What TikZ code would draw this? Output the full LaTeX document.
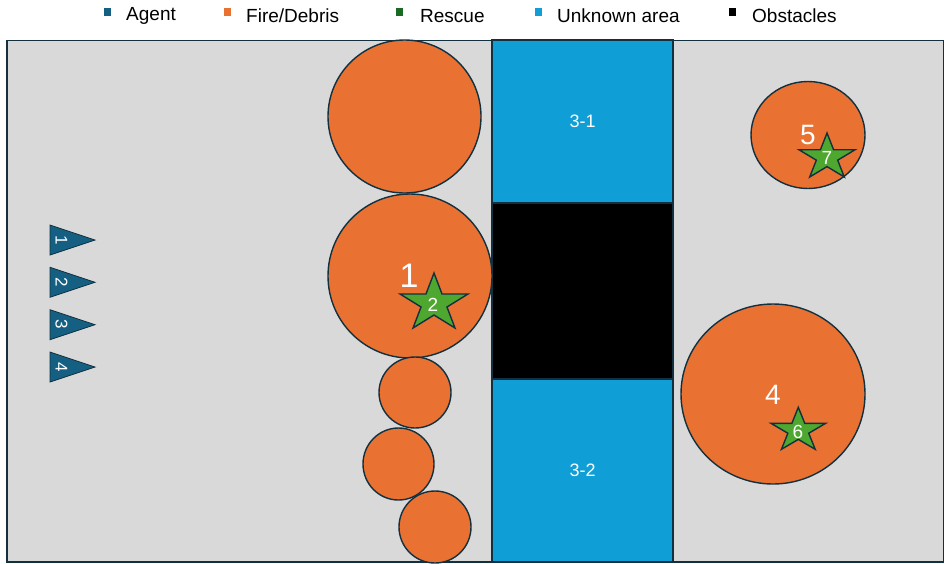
\documentclass[tikz,border=0pt]{standalone}
\usepackage{fontspec}
\setmainfont{Liberation Sans}
\usetikzlibrary{shapes.geometric}
\definecolor{bggray}{HTML}{D9D9D9}
\definecolor{edge}{HTML}{13303F}
\definecolor{fire}{HTML}{E97132}
\definecolor{unknown}{HTML}{0F9ED5}
\definecolor{agentc}{HTML}{156082}
\definecolor{rescue}{HTML}{4EA72E}
\definecolor{rescuedk}{HTML}{196B24}
\tikzset{
  fs/.style={font=\fontsize{#1}{#1}\selectfont},
  frame/.style={draw=edge, fill=bggray, line width=1.6pt},
  firec/.style={ellipse, draw=edge, fill=fire, line width=1.4pt, inner sep=0pt},
  zone/.style={rectangle, draw=edge, line width=1.2pt, inner sep=0pt, text=white, fs=18},
  starsty/.style={draw=edge, fill=rescue, line width=1.4pt, line join=miter},
  agentsty/.style={draw=edge, fill=agentc, line width=0.8pt},
  bignum/.style={text=white, inner sep=0pt},
  starnum/.style={text=white, inner sep=0pt, fs=19},
  agentnum/.style={text=white, inner sep=0pt, fs=17, rotate=-90},
  legsq/.style={rectangle, minimum width=7pt, minimum height=8pt, inner sep=0pt},
  legtxt/.style={anchor=west, inner sep=0pt, fs=19, text=black},
}
\newcommand{\mystar}[3]{%
  \begin{scope}[shift={(#1)}]
  \draw[starsty] (-90:#2 and #3) -- (-54:{0.382*#2} and {0.382*#3})
    -- (-18:#2 and #3) -- (18:{0.382*#2} and {0.382*#3})
    -- (54:#2 and #3) -- (90:{0.382*#2} and {0.382*#3})
    -- (126:#2 and #3) -- (162:{0.382*#2} and {0.382*#3})
    -- (198:#2 and #3) -- (234:{0.382*#2} and {0.382*#3}) -- cycle;
  \end{scope}}
\begin{document}
\begin{tikzpicture}[x=1pt, y=-1pt]
\useasboundingbox (0,0) rectangle (944,563);
% legend
\node[legsq, fill=agentc] (lq1) at (107,12) {};
\node[legtxt] (lt1) at (126,16) {Agent};
\node[legsq, fill=fire] (lq2) at (227,12) {};
\node[legtxt] (lt2) at (246,16) {Fire/Debris};
\node[legsq, fill=rescuedk] (lq3) at (399,12) {};
\node[legtxt] (lt3) at (420,16) {Rescue};
\node[legsq, fill=unknown] (lq4) at (538,12) {};
\node[legtxt] (lt4) at (557,16) {Unknown area};
\node[legsq, fill=black] (lq5) at (732,12) {};
\node[legtxt] (lt5) at (752,16) {Obstacles};
% frame
\draw[frame] (7,40.5) rectangle (944,562);
% zones
\node[zone, fill=unknown, minimum width=181pt, minimum height=163pt] (z31) at (582.5,121.5) {3-1};
\node[zone, fill=black, minimum width=181pt, minimum height=176pt] (obs) at (582.5,291) {};
\node[zone, fill=unknown, minimum width=181pt, minimum height=183pt] (z32) at (582.5,470.5) {3-2};
% fire / debris
\node[firec, minimum width=153pt, minimum height=153pt] (f0) at (404.5,116.5) {};
\node[firec, minimum width=164pt, minimum height=164pt] (f1) at (410,276) {};
\node[firec, minimum width=72pt, minimum height=71pt] (fa) at (415,392.5) {};
\node[firec, minimum width=71pt, minimum height=72pt] (fb) at (398.5,464) {};
\node[firec, minimum width=72pt, minimum height=72pt] (fc) at (435,527) {};
\node[firec, minimum width=114pt, minimum height=107pt] (f5) at (808,135) {};
\node[firec, minimum width=184pt, minimum height=180pt] (f4) at (773,394) {};
\node[bignum, fs=34] (n1) at (409,276) {1};
\node[bignum, fs=28] (n5) at (808,135) {5};
\node[bignum, fs=28] (n4) at (773,395) {4};
% rescue stars
\coordinate (s2) at (434,303.4);
\coordinate (s7) at (827,157.3);
\coordinate (s6) at (798.3,430.5);
\mystar{s2}{35.7}{30.4}
\mystar{s7}{29.4}{24.3}
\mystar{s6}{28.7}{23.2}
\node[starnum] (r2) at (433,304.5) {2};
\node[starnum] (r7) at (827,158) {7};
\node[starnum] (r6) at (798,432) {6};
% agents
\foreach \i/\yc in {1/240,2/282.3,3/324.7,4/367}{
  \draw[agentsty] (50,\yc-15) -- (95,\yc) -- (50,\yc+15) -- cycle;
  \node[agentnum] (a\i) at (61.5,\yc) {\i};
}
\end{tikzpicture}
\end{document}
